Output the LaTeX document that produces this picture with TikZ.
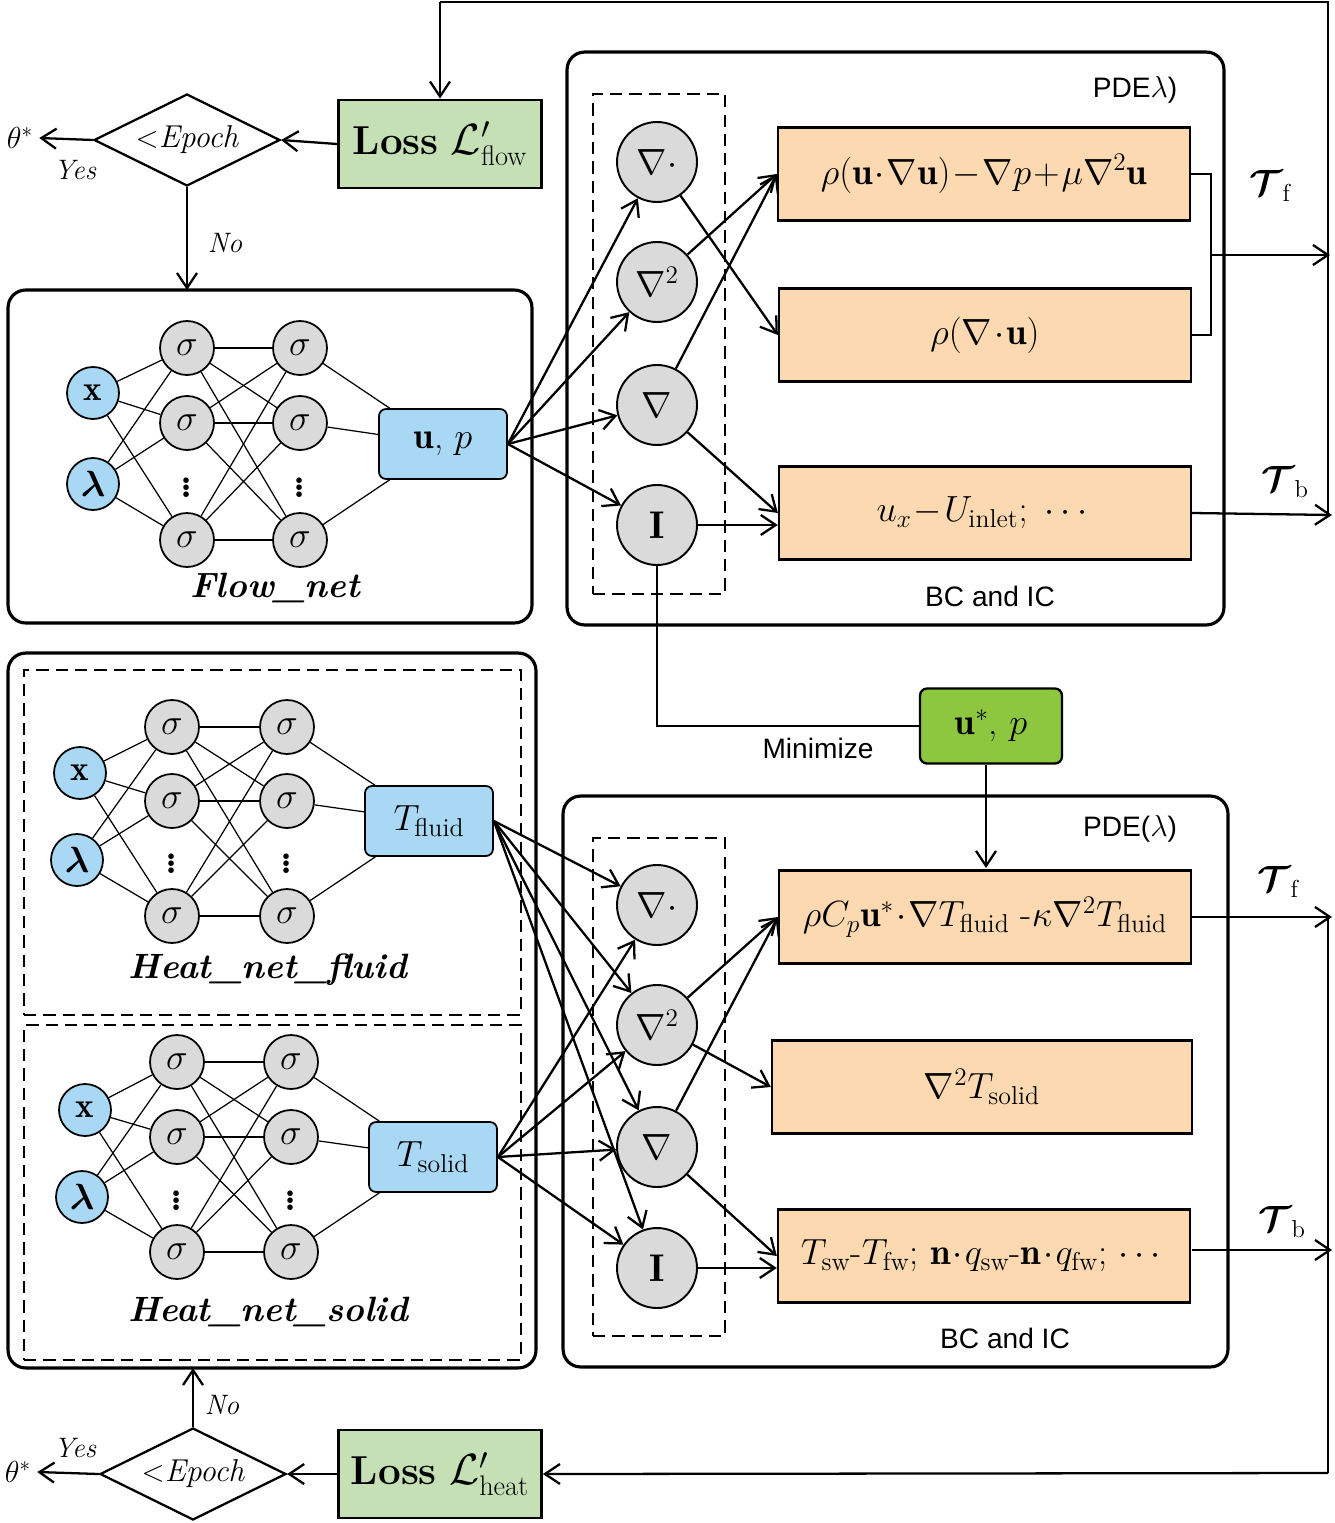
\documentclass[tikz,border=0pt]{standalone}
\usepackage{amsmath}
\usepackage{amssymb}
\usepackage{fontspec}
\setsansfont{Liberation Sans}
\usepackage{tikz}
\usetikzlibrary{shapes.geometric, arrows, arrows.meta}
\definecolor{lossgreen}{RGB}{197,224,180}
\definecolor{upgreen}{RGB}{141,198,63}
\definecolor{netblue}{RGB}{168,216,244}
\definecolor{eqorange}{RGB}{252,217,176}
\definecolor{opgray}{RGB}{218,218,218}
\tikzstyle{loss} = [rectangle, minimum width=4.06cm, minimum height=1.76cm, draw=black, line width=1.6pt, fill=lossgreen, font=\fontsize{23}{26}\selectfont]
\tikzstyle{epoch} = [diamond, aspect=2, inner sep=0pt, minimum width=3.72cm, minimum height=1.84cm, draw=black, line width=1.3pt, font=\fontsize{18}{20}\selectfont\itshape]
\tikzstyle{panel} = [rectangle, rounded corners=10pt, draw=black, line width=1.8pt]
\tikzstyle{group} = [rectangle, draw=black, line width=1.3pt, dash pattern=on 7pt off 4pt]
\tikzstyle{inp} = [circle, minimum size=1.04cm, inner sep=0pt, draw=black, line width=1pt, fill=netblue, font=\fontsize{20}{22}\selectfont]
\tikzstyle{neu} = [circle, minimum size=1.08cm, inner sep=0pt, draw=black, line width=1pt, fill=opgray, font=\fontsize{20}{22}\selectfont]
\tikzstyle{dots} = [font=\fontsize{22}{24}\selectfont\bfseries, inner sep=0pt]
\tikzstyle{outp} = [rectangle, rounded corners=4pt, minimum width=2.56cm, minimum height=1.4cm, draw=black, line width=1pt, fill=netblue, font=\fontsize{21}{24}\selectfont]
\tikzstyle{op} = [circle, minimum size=1.6cm, inner sep=0pt, draw=black, line width=1.1pt, fill=opgray, font=\fontsize{22}{24}\selectfont]
\tikzstyle{eq} = [rectangle, minimum width=8.24cm, minimum height=1.86cm, draw=black, line width=1.4pt, fill=eqorange, font=\fontsize{21}{24}\selectfont]
\tikzstyle{netname} = [font=\fontsize{20}{24}\selectfont\bfseries\itshape]
\tikzstyle{lab} = [font=\fontsize{16}{18}\selectfont\sffamily]
\tikzstyle{yesno} = [font=\fontsize{16}{18}\selectfont\itshape]
\tikzstyle{arrow} = [line width=1.3pt,-{Straight Barb[length=3mm,width=4mm]}]
\tikzstyle{line} = [line width=1.3pt]
\tikzstyle{link} = [line width=0.7pt]

\begin{document}
\begin{tikzpicture}[x=0.02cm, y=-0.02cm]
\useasboundingbox (0,0) rectangle (1334,1523);

% ---- flow part
\node (lossf) [loss] at (440,144) {\textbf{Loss} $\mathcal{L}'_{\text{flow}}$};
\node (epf) [epoch] at (187,140) {$<$Epoch};
\node (thf) at (20,138) {\fontsize{17}{18}\selectfont$\theta^{*}$};
\node [yesno] at (75,170) {Yes};
\node [yesno] at (225,243) {No};
\node (flowbox) [panel, minimum width=10.48cm, minimum height=6.66cm] at (270,456.5) {};
\coordinate (flowtop) at (187,290);

\node (xf) [inp] at (93,393) {$\mathbf{x}$};
\node (lf) [inp] at (93,484) {$\boldsymbol{\lambda}$};
\foreach \c/\xx in {a/187,b/300}{
  \node (\c1f) [neu] at (\xx,348) {$\sigma$};
  \node (\c2f) [neu] at (\xx,423) {$\sigma$};
  \node (\c3f) [neu] at (\xx,540) {$\sigma$};
  \node [dots] at (\xx,482) {$\vdots$};
}
\node (upf) [outp] at (443,444) {$\mathbf{u}$, $p$};
\node [netname] at (275,588) {Flow\_net};

\node (pdef) [panel, minimum width=13.14cm, minimum height=11.46cm] at (895.5,338.5) {};
\node [lab] at (1135,90) {PDE$\lambda$)};
\node [lab] at (990,596) {BC and IC};
\node (grpf) [group, minimum width=2.64cm, minimum height=10cm] at (659,344) {};
\node (divf) [op] at (657,162) {$\nabla\cdot$};
\node (lapf) [op] at (657,282) {$\nabla^{2}$};
\node (grdf) [op] at (657,405) {$\nabla$};
\node (idf) [op] at (657,525) {$\mathbf{I}$};
\node (ns) [eq] at (984,174) {$\rho(\mathbf{u}\!\cdot\!\nabla\mathbf{u})\!-\!\nabla p\!+\!\mu\nabla^{2}\mathbf{u}$};
\node (cont) [eq] at (985,335) {$\rho(\nabla\!\cdot\!\mathbf{u})$};
\node (bcf) [eq] at (985,513) {$u_{x}\!-\!U_{\text{inlet}};\ \cdots$};
\node [font=\fontsize{20}{22}\selectfont] at (1270,186) {$\boldsymbol{\mathcal{T}}_{\mathrm{f}}$};
\node [font=\fontsize{20}{22}\selectfont] at (1285,482) {$\boldsymbol{\mathcal{T}}_{\mathrm{b}}$};
\coordinate (tff) at (1330,255);
\coordinate (tbf) at (1332,515);
\coordinate (topr) at (1328,2);
\coordinate (topl) at (440,2);

% ---- flow links
\foreach \i in {xf,lf}
  \foreach \j in {a1f,a2f,a3f}
    \draw [link] (\i) -- (\j);
\foreach \i in {a1f,a2f,a3f}
  \foreach \j in {b1f,b2f,b3f}
    \draw [link] (\i) -- (\j);
\foreach \i in {b1f,b2f,b3f}
  \draw [link] (\i) -- (upf);
\foreach \j in {divf,lapf,grdf,idf}
  \draw [arrow] (upf.east) -- (\j);
\draw [arrow] (divf) -- (cont.west);
\draw [arrow] (lapf) -- (ns.west);
\draw [arrow] (grdf) -- (ns.west);
\draw [arrow] (grdf) -- (bcf.west);
\draw [arrow] (idf) -- (idf -| bcf.west);
\draw [line] (ns.east) -- +(20,0) |- (cont.east);
\draw [arrow] (1210,255) -- (tff);
\draw [arrow] (bcf.east) -- (tbf);
\draw [line] (1328,515) -- (topr) -- (topl);
\draw [arrow] (topl) -- (lossf.north);
\draw [arrow] (lossf.west) -- (epf.east);
\draw [arrow] (epf.west) -- (thf.east);
\draw [arrow] (epf.south) -- (flowtop);

% ---- heat part
\node (upstar) [rectangle, rounded corners=4pt, minimum width=2.84cm, minimum height=1.5cm, draw=black, line width=1.3pt, fill=upgreen, font=\fontsize{21}{24}\selectfont] at (991,726) {$\mathbf{u}^{*}$, $p$};
\node [lab] at (818,748) {Minimize};
\draw [line] (idf.south) |- (upstar.west);

\node (heatbox) [panel, minimum width=10.56cm, minimum height=14.3cm] at (272,1010.5) {};
\node (grpfl) [group, minimum width=9.94cm, minimum height=6.9cm] at (272.5,842.5) {};
\node (grpso) [group, minimum width=9.94cm, minimum height=6.7cm] at (272.5,1192.5) {};
\coordinate (heatbot) at (193,1368);

\node (xh) [inp] at (80,773) {$\mathbf{x}$};
\node (lh) [inp] at (77,860) {$\boldsymbol{\lambda}$};
\foreach \c/\xx in {a/172,b/287}{
  \node (\c1h) [neu] at (\xx,727) {$\sigma$};
  \node (\c2h) [neu] at (\xx,801) {$\sigma$};
  \node (\c3h) [neu] at (\xx,916) {$\sigma$};
  \node [dots] at (\xx,858) {$\vdots$};
}
\node (tfl) [outp] at (429,821) {$T_{\text{fluid}}$};
\node [netname] at (268,970) {Heat\_net\_fluid};

\node (xs) [inp] at (85,1110) {$\mathbf{x}$};
\node (ls) [inp] at (82,1197) {$\boldsymbol{\lambda}$};
\foreach \c/\xx in {a/177,b/291}{
  \node (\c1s) [neu] at (\xx,1062) {$\sigma$};
  \node (\c2s) [neu] at (\xx,1137) {$\sigma$};
  \node (\c3s) [neu] at (\xx,1252) {$\sigma$};
  \node [dots] at (\xx,1195) {$\vdots$};
}
\node (tso) [outp] at (433,1157) {$T_{\text{solid}}$};
\node [netname] at (268,1312) {Heat\_net\_solid};

\node (pdeh) [panel, minimum width=13.3cm, minimum height=11.42cm] at (895.5,1081.5) {};
\node [lab] at (1130,829) {PDE($\lambda$)};
\node [lab] at (1005,1338) {BC and IC};
\node (grph) [group, minimum width=2.64cm, minimum height=9.96cm] at (659,1087) {};
\node (divh) [op] at (657,905) {$\nabla\cdot$};
\node (laph) [op] at (657,1025) {$\nabla^{2}$};
\node (grdh) [op] at (657,1147) {$\nabla$};
\node (idh) [op] at (657,1268) {$\mathbf{I}$};
\node (heq) [eq] at (985,917) {$\rho C_{p}\mathbf{u}^{*}\!\cdot\!\nabla T_{\text{fluid}}$ -$\kappa\nabla^{2}T_{\text{fluid}}$};
\node (seq) [eq, minimum width=8.4cm] at (982,1087) {$\nabla^{2}T_{\text{solid}}$};
\node (bch) [eq] at (984,1256) {$T_{\text{sw}}$-$T_{\text{fw}}$; $\mathbf{n}\!\cdot\! q_{\text{sw}}$-$\mathbf{n}\!\cdot\! q_{\text{fw}}$; $\cdots$};
\node [font=\fontsize{20}{22}\selectfont] at (1278,882) {$\boldsymbol{\mathcal{T}}_{\mathrm{f}}$};
\node [font=\fontsize{20}{22}\selectfont] at (1282,1222) {$\boldsymbol{\mathcal{T}}_{\mathrm{b}}$};
\coordinate (tfh) at (1332,917);
\coordinate (tbh) at (1332,1250);
\coordinate (botr) at (1328,1473);

\node (lossh) [loss] at (440,1474) {\textbf{Loss} $\mathcal{L}'_{\text{heat}}$};
\node (eph) [epoch] at (193,1474) {$<$Epoch};
\node (thh) at (18,1472) {\fontsize{17}{18}\selectfont$\theta^{*}$};
\node [yesno] at (75,1448) {Yes};
\node [yesno] at (222,1405) {No};

% ---- heat links
\foreach \n in {h,s}{
  \foreach \i in {x\n,l\n}
    \foreach \j in {a1\n,a2\n,a3\n}
      \draw [link] (\i) -- (\j);
  \foreach \i in {a1\n,a2\n,a3\n}
    \foreach \j in {b1\n,b2\n,b3\n}
      \draw [link] (\i) -- (\j);
}
\foreach \i in {b1h,b2h,b3h}
  \draw [link] (\i) -- (tfl);
\foreach \i in {b1s,b2s,b3s}
  \draw [link] (\i) -- (tso);
\foreach \j in {divh,laph,grdh,idh}{
  \draw [arrow] (tfl.east) -- (\j);
  \draw [arrow] (tso.east) -- (\j);
}
\draw [arrow] (upstar.south -| 986,0) -- (986,868);
\draw [arrow] (laph) -- (heq.west);
\draw [arrow] (grdh) -- (heq.west);
\draw [arrow] (laph) -- (seq.west);
\draw [arrow] (grdh) -- (bch.west);
\draw [arrow] (idh) -- (idh -| bch.west);
\draw [arrow] (heq.east) -- (tfh);
\draw [arrow] (1192,1250) -- (tbh);
\draw [line] (1328,917) -- (botr);
\draw [arrow] (botr) -- (lossh.east);
\draw [arrow] (lossh.west) -- (eph.east);
\draw [arrow] (eph.west) -- (thh.east);
\draw [arrow] (eph.north) -- (heatbot);

\end{tikzpicture}
\end{document}
